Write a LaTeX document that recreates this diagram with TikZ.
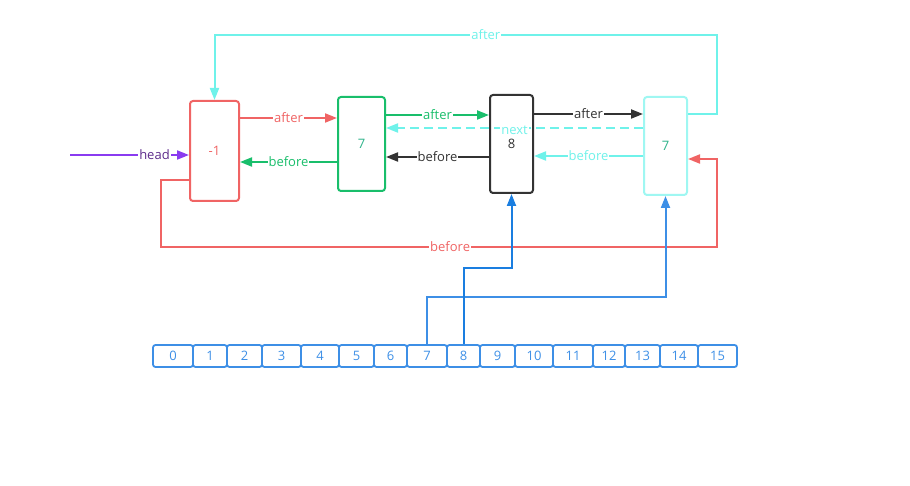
\documentclass[tikz,border=0pt]{standalone}
\usepackage{fontspec}
\setmainfont{Open Sans}
\usetikzlibrary{arrows.meta}
\definecolor{cred}{HTML}{F06464}
\definecolor{cgreen}{HTML}{19BE6B}
\definecolor{cdark}{HTML}{333333}
\definecolor{ccyan}{HTML}{6FF2EA}
\definecolor{ccyanbox}{HTML}{9FF7F2}
\definecolor{cteal}{HTML}{2DB38A}
\definecolor{cpurple}{HTML}{8A3BF0}
\definecolor{cpurtext}{HTML}{5E2C8C}
\definecolor{cblue}{HTML}{3D8FE6}
\definecolor{cbluedk}{HTML}{1A7EE0}
\tikzset{
  box/.style={draw, rounded corners=3pt, line width=2pt, fill=white},
  cell/.style={draw=cblue, text=cblue, rounded corners=2.5pt, line width=1.8pt, minimum height=22, inner sep=0pt},
  link/.style={line width=2pt, -{Triangle[length=12pt,width=9pt]}},
  lab/.style={fill=white, inner sep=1pt}
}
\begin{document}
\begin{tikzpicture}[x=1pt,y=-1pt,font=\fontsize{13}{15}\selectfont]
    \useasboundingbox (0,0) rectangle (910,486);
    \node[box, draw=cred, text=cred, minimum width=49, minimum height=100] (n1) at (214.5,151) {-1};
    \node[box, draw=cgreen, text=cteal, minimum width=47, minimum height=94] (n2) at (361.5,144) {7};
    \node[box, draw=cdark, text=cdark, minimum width=43, minimum height=98] (n3) at (511.5,144) {8};
    \node[box, draw=ccyanbox, text=cteal, minimum width=43, minimum height=98] (n4) at (665.5,146) {7};

    \foreach \r [count=\i from 0, remember=\r as \l (initially 153)] in {193,227,262,301,339,374,407,447,480,515,553,593,625,660,698,737}
        \node[cell, minimum width={\r-\l}] (c\i) at ({(\l+\r)/2},356) {\i};

    \coordinate (hd) at (70,155);
    \draw[link, cpurple] (hd) -- node[lab, pos=0.71, text=cpurtext]{head} (n1.west |- hd);

    \draw[link, cred] (n1.east |- 0,118) -- node[lab]{after} (n2.west |- 0,118);
    \draw[link, cgreen] (n2.west |- 0,162) -- node[lab]{before} (n1.east |- 0,162);
    \draw[link, cgreen] (n2.east |- 0,115) -- node[lab]{after} (n3.west |- 0,115);
    \draw[link, cdark] (n3.west |- 0,157) -- node[lab]{before} (n2.east |- 0,157);
    \draw[link, cdark] (n3.east |- 0,114) -- node[lab]{after} (n4.west |- 0,114);
    \draw[link, ccyan] (n4.west |- 0,156) -- node[lab]{before} (n3.east |- 0,156);
    \draw[link, ccyan, dash pattern=on 9pt off 5pt] (n4.west |- 0,128) -- node[lab, yshift=-2pt]{next} (n2.east |- 0,128);

    \draw[link, ccyan] (n4.east |- 0,114) -| (717,35) -- node[lab, pos=0.46]{after} (n1.north |- 0,35) -- (n1.north);
    \draw[link, cred] (n1.west |- 0,180) -| (161,247) -- node[lab, pos=0.52]{before} (717,247) |- (n4.east |- 0,159);

    \draw[link, cblue] (c7.north) |- (n4.south |- 0,297) -- (n4.south);
    \draw[link, cbluedk] (c8.north) |- (n3.south |- 0,268) -- (n3.south);
\end{tikzpicture}
\end{document}
